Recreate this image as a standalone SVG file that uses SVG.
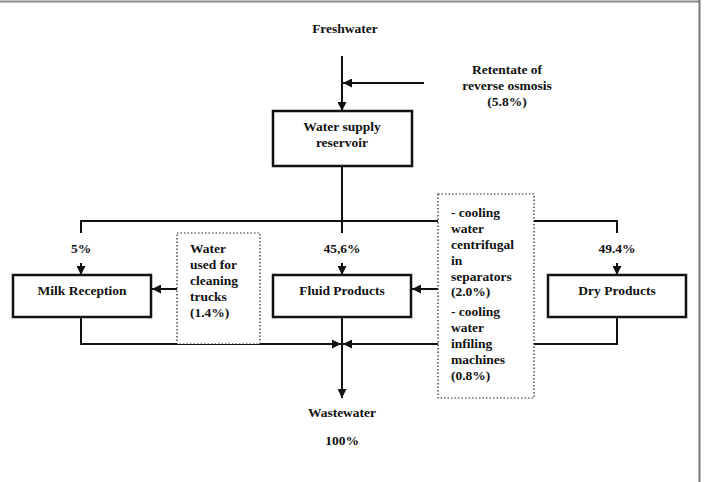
<svg xmlns="http://www.w3.org/2000/svg" width="706" height="482" viewBox="0 0 706 482">
<defs>
<marker id="ah" viewBox="0 0 10 10" refX="10" refY="5" markerWidth="9" markerHeight="9" markerUnits="userSpaceOnUse" orient="auto">
<path d="M0,0 L10,5 L0,10 z" fill="#111"/>
</marker>
<style>
text{font-family:"Liberation Serif","Times New Roman",serif;font-weight:bold;font-size:13.5px;fill:#111}
.c{text-anchor:middle}
.box{fill:#fff;stroke:#111;stroke-width:2.5}
.dot{fill:#fff;stroke:#222;stroke-width:1.2;stroke-dasharray:1.5 2}
.ln{fill:none;stroke:#111;stroke-width:2}
.ar{fill:none;stroke:#111;stroke-width:2;marker-end:url(#ah)}
</style>
</defs>
<rect width="706" height="482" fill="#fff"/>
<line x1="0" y1="1.5" x2="700" y2="1.5" stroke="#888" stroke-width="2"/>
<line x1="699.5" y1="0" x2="699.5" y2="482" stroke="#777" stroke-width="2"/>
<g id="connectors">
<line class="ar" x1="342" y1="56" x2="342" y2="111"/>
<line class="ar" x1="424" y1="83" x2="343" y2="83"/>
<polyline class="ln" points="342,166 342,233"/>
<polyline class="ln" points="81,233 81,221 438,221"/>
<polyline class="ln" points="534,221 617,221 617,233"/>
<line class="ar" x1="81" y1="263" x2="81" y2="275"/>
<line class="ar" x1="342" y1="263" x2="342" y2="275"/>
<line class="ar" x1="617" y1="263" x2="617" y2="275"/>
<line class="ar" x1="177" y1="289" x2="152" y2="289"/>
<line class="ar" x1="438" y1="289" x2="412" y2="289"/>
<polyline class="ar" points="81,317 81,344 341,344"/>
<polyline class="ar" points="438,344 343,344"/>
<polyline class="ln" points="617,317 617,344 534,344"/>
<line class="ar" x1="342" y1="317" x2="342" y2="398"/>
</g>
<g id="freshwater"><text class="c" x="345" y="33">Freshwater</text></g>
<g id="retentate">
<text class="c" x="507" y="74">Retentate of</text>
<text class="c" x="507" y="90">reverse osmosis</text>
<text class="c" x="507" y="106">(5.8%)</text>
</g>
<g id="reservoir">
<rect class="box" x="273" y="111" width="139" height="55"/>
<text class="c" x="342" y="131">Water supply</text>
<text class="c" x="342" y="147">reservoir</text>
</g>
<g id="pct">
<text class="c" x="81" y="253">5%</text>
<text class="c" x="342" y="253">45,6%</text>
<text class="c" x="617" y="253">49.4%</text>
</g>
<g id="milk">
<rect class="box" x="13" y="275" width="138" height="42"/>
<text class="c" x="82" y="295">Milk Reception</text>
</g>
<g id="fluid">
<rect class="box" x="273" y="275" width="138" height="42"/>
<text class="c" x="342" y="295">Fluid Products</text>
</g>
<g id="dry">
<rect class="box" x="548" y="275" width="138" height="42"/>
<text class="c" x="617" y="295">Dry Products</text>
</g>
<g id="trucks">
<rect class="dot" x="177" y="233" width="83" height="111"/>
<text x="190" y="253">Water</text>
<text x="190" y="269">used for</text>
<text x="190" y="285">cleaning</text>
<text x="190" y="301">trucks</text>
<text x="190" y="317">(1.4%)</text>
</g>
<g id="cooling">
<rect class="dot" x="438" y="194" width="96" height="204"/>
<text x="451" y="217">- cooling</text>
<text x="451" y="233">water</text>
<text x="451" y="249">centrifugal</text>
<text x="451" y="265">in</text>
<text x="451" y="281">separators</text>
<text x="451" y="296">(2.0%)</text>
<text x="451" y="316">- cooling</text>
<text x="451" y="332">water</text>
<text x="451" y="348">infiling</text>
<text x="451" y="364">machines</text>
<text x="451" y="380">(0.8%)</text>
</g>
<g id="wastewater">
<text class="c" x="342" y="417">Wastewater</text>
<text class="c" x="342" y="445">100%</text>
</g>
</svg>
